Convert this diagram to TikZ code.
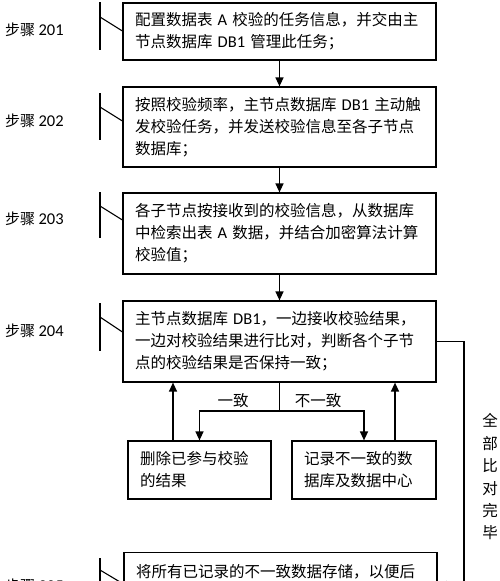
\documentclass[tikz,border=0pt]{standalone}
\usepackage{fontspec}
\setmainfont{Noto Sans CJK SC}
\newfontfamily\lat{Carlito}
\newcommand{\la}[1]{{\lat\fontsize{16.5}{22}\selectfont #1}}
\usetikzlibrary{arrows.meta}
\begin{document}
\begin{tikzpicture}[x=1pt,y=-1pt,
  box/.style={draw,line width=1.2pt,inner xsep=12pt,inner ysep=0pt,text width=#1,align=left,
    font=\fontsize{15.5}{22}\selectfont},
  box/.default=289pt,
  arr/.style={line width=1.3pt,-{Triangle[length=9pt,width=8pt]}},
  brk/.style={line width=1.1pt},
  steplbl/.style={anchor=west,inner sep=0pt,font=\fontsize{15}{18}\selectfont},
  lbl/.style={inner sep=0pt,font=\fontsize{15.5}{18}\selectfont}]
\useasboundingbox (0,0) rectangle (500,581);
\clip (0,0) rectangle (500,581);
\fill[white] (0,0) rectangle (500,581);

\node[box,minimum height=57pt] (b1) at (279.5,31.5)
  {配置数据表 \la{A} 校验的任务信息，并交由主\\节点数据库 \la{DB1} 管理此任务；};
\node[box,minimum height=80pt] (b2) at (279.5,127)
  {按照校验频率，主节点数据库 \la{DB1} 主动触\\发校验任务，并发送校验信息至各子节点\\数据库；};
\node[box,minimum height=81pt] (b3) at (279.5,233.5)
  {各子节点按接收到的校验信息，从数据库\\中检索出表 \la{A} 数据，并结合加密算法计算\\校验值；};
\node[box,minimum height=81pt] (b4) at (279.5,341.5)
  {主节点数据库 \la{DB1}，一边接收校验结果，\\一边对校验结果进行比对，判断各个子节\\点的校验结果是否保持一致；};
\node[box=119pt,minimum height=58pt] (bl) at (199.5,470)
  {删除已参与校验\\的结果};
\node[box=120pt,minimum height=58pt] (br) at (364,470)
  {记录不一致的数\\据库及数据中心};
\node[box,minimum height=80pt,anchor=north,text depth=44pt,text height=14pt] (b5) at (280.5,552)
  {将所有已记录的不一致数据存储，以便后};

% step labels
\node[steplbl] (s1) at (5,30) {步骤 \la{201}};
\node[steplbl] (s2) at (5,121) {步骤 \la{202}};
\node[steplbl] (s3) at (5,219) {步骤 \la{203}};
\node[steplbl] (s4) at (5,331) {步骤 \la{204}};
\node[steplbl] (s5) at (5,586) {步骤 \la{205}};

% brackets
\draw[brk] (100,2) -- (100,50);
\draw[brk] (100,17) -- (b1.west |- 0,31);
\draw[brk] (100,93) -- (100,140);
\draw[brk] (100,107) -- (b2.west |- 0,121);
\draw[brk] (100,192) -- (100,238);
\draw[brk] (100,206) -- (b3.west |- 0,220);
\draw[brk] (100,303) -- (100,351);
\draw[brk] (100,317) -- (b4.west |- 0,332);
\draw[brk] (100,558) -- (100,600);
\draw[brk] (100,570) -- (b5.west |- 0,584);

% main arrows
\draw[arr] (b1) -- (b2);
\draw[arr] (b2) -- (b3);
\draw[arr] (b3) -- (b4);

\coordinate (j) at (279.5,411);
\draw[line width=1.3pt] (b4.south) -- (j);
\draw[arr] (j) -| (bl.north);
\draw[arr] (j) -| (br.north);
\draw[arr] ([xshift=-26.5pt]bl.north) -- ([xshift=-26.5pt]bl.north |- b4.south);
\draw[arr] ([xshift=31pt]br.north) -- ([xshift=31pt]br.north |- b4.south);

\node[lbl] (l1) at (233,401) {一致};
\node[lbl] (l2) at (318,401) {不一致};

% loop on the right
\coordinate (r5) at ([yshift=-33pt]b5.north east);
\draw[arr] (b4.east) -- (464,341.5) |- (r5);
\node[inner sep=0pt,align=center,font=\fontsize{15.5}{22.4}\selectfont] (lv) at (490,477)
  {全\\部\\比\\对\\完\\毕};
\end{tikzpicture}
\end{document}
